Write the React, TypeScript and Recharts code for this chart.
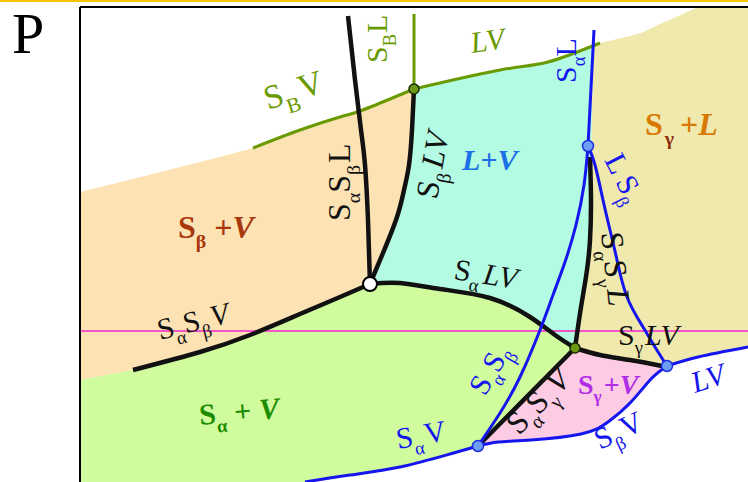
import { ComposedChart, XAxis, YAxis, Area, Line, Scatter, ReferenceLine, ReferenceDot } from 'recharts'

// diagram units: T runs 0–668 left to right, P runs 0–475 bottom to top
type Pt = [number, number]
type Band = [number, number, number] // T, lower P, upper P

// phase fields (x-slices: T, lower boundary, upper boundary)
const SB_V_FIELD: Band[] = [
  [0, 102, 290], [53, 112, 303], [120, 130, 320], [170, 147, 333], [173, 148, 334],
  [220, 168, 352], [260, 185, 365], [280, 194, 371], [290, 198, 375], [303, 229, 380],
  [317, 265, 386], [324, 292, 388], [329, 317, 390], [332, 352, 392], [334, 393, 393],
]
const SA_V_FIELD: Band[] = [
  [0, 0, 102], [53, 0, 112], [120, 0, 130], [170, 0, 147], [220, 0, 168], [225, 0, 170],
  [260, 5, 185], [270, 7, 189], [290, 10, 198], [320, 15, 199], [360, 25, 193],
  [370, 28, 191], [398, 36, 186], [410, 48, 184], [450, 88, 165], [475, 114, 147], [495, 134, 134],
]
const L_V_FIELD: Band[] = [
  [290, 198, 198], [303, 198, 229], [317, 199, 265], [324, 198, 292], [329, 198, 317],
  [332, 197, 352], [334, 197, 393], [360, 193, 399], [410, 184, 410], [450, 165, 417],
  [475, 147, 423], [495, 134, 430], [499, 162, 431], [503, 187, 433], [507, 212, 434],
  [510, 242, 435], [511, 290, 436], [512, 370, 436], [513, 420, 437], [513.5, 437, 437],
]
const SG_L_FIELD: Band[] = [
  [495, 134, 134], [499, 133, 162], [503, 132, 187], [507, 131, 212], [510, 130, 242],
  [511, 129, 290], [512, 129, 370], [513, 129, 420], [513.5, 129, 437], [520, 127, 439],
  [550, 122, 446], [561, 120, 449], [582, 116, 459], [587, 116, 461], [618, 125, 475], [668, 135, 475],
]
const SG_V_FIELD: Band[] = [
  [398, 36, 36], [418, 40, 56], [451, 42, 90], [495, 47, 134], [501, 48, 132], [520, 56, 127],
  [528, 60, 126], [550, 79, 122], [571, 103, 118], [582, 112, 116], [587, 116, 116],
]

// black univariant curves
const SA_SB_L: Pt[] = [[268, 466], [275, 402], [281, 352], [285, 317], [288, 262], [290, 198]]
const SB_LV: Pt[] = [[334, 393], [332, 352], [329, 317], [324, 292], [317, 265], [303, 229], [290, 198]]
const SA_SB_V: Pt[] = [[53, 112], [120, 130], [170, 147], [220, 168], [260, 185], [290, 198]]
const SA_LV: Pt[] = [[290, 198], [320, 199], [360, 193], [410, 184], [450, 165], [475, 147], [495, 134]]
const SA_SG_L: Pt[] = [[495, 134], [499, 162], [503, 187], [507, 212], [510, 242], [511, 282], [510, 325]]
const SA_SG_V: Pt[] = [[398, 36], [495, 134]]
const SG_LV: Pt[] = [[495, 134], [520, 127], [550, 122], [582, 116]]

// olive curves
const SB_V: Pt[] = [[173, 334], [220, 352], [260, 365], [280, 371], [310, 383], [334, 393]]
const LV_UPPER: Pt[] = [[334, 393], [420, 412], [468, 420], [520, 439]]
const SB_L: Pt[] = [[334, 468], [334, 393]]

// blue curves
const SA_L: Pt[] = [[514, 452], [508, 336]]
const SA_SB: Pt[] = [[508, 336], [504, 297], [496, 257], [485, 220], [473, 187], [460, 152], [440, 105], [420, 69], [398, 36]]
const L_SB: Pt[] = [[508, 336], [515, 317], [523, 282], [530, 252], [537, 222], [547, 185], [563, 155], [575, 135], [587, 116]]
const LV_LOWER: Pt[] = [[587, 116], [618, 125], [668, 135]]
const SB_V_LOW: Pt[] = [[587, 116], [571, 103], [551, 80], [528, 60], [501, 48], [451, 42], [418, 40], [398, 36]]
const SA_V: Pt[] = [[225, 0], [270, 7], [320, 15], [370, 28], [398, 36]]

const ISOBAR_P = 151

const WHITE_POINTS: Pt[] = [[290, 198]]
const OLIVE_POINTS: Pt[] = [[334, 393], [495, 134]]
const BLUE_POINTS: Pt[] = [[508, 336], [587, 116], [398, 36]]

const INK = '#111'
const OLIVE = '#6a9a02'
const BLUE = '#1515ee'

type Part = [string, string?, number?, string?] // text, flags (s=sub, b=bold, i=italic), dx, colour
type Label = { t: number; p: number; rot: number; size: number; color: string; parts: Part[] }

const LABELS: Label[] = [
  { t: 188, p: 372, rot: -18, size: 34, color: OLIVE, parts: [['S'], ['B', 's'], ['V', '', 3]] },
  { t: 307, p: 419, rot: -90, size: 30, color: OLIVE, parts: [['S'], ['B', 's'], ['L', '', 1]] },
  { t: 392, p: 429, rot: -8, size: 30, color: OLIVE, parts: [['LV', 'i']] },
  { t: 496, p: 399, rot: -90, size: 30, color: BLUE, parts: [['S'], ['α', 's'], ['L']] },
  { t: 565, p: 347, rot: 0, size: 32, color: '#d97800', parts: [['S', 'b'], ['γ', 'sb', 2, '#8c2c06'], ['+', 'b', 6], ['L', 'bi']] },
  { t: 382, p: 312, rot: 0, size: 30, color: '#1c6fe6', parts: [['L+V', 'bi']] },
  { t: 270, p: 261, rot: -90, size: 32, color: INK, parts: [['S'], ['α', 's'], ['S'], ['β', 's'], ['L', '', 2]] },
  { t: 357, p: 282, rot: -80, size: 32, color: INK, parts: [['S'], ['β', 's'], ['LV', 'i', 3]] },
  { t: 98, p: 244, rot: 0, size: 32, color: '#a8380c', parts: [['S', 'b'], ['β', 'sb'], ['+', 'b', 8], ['V', 'bi']] },
  { t: 80, p: 142, rot: -14, size: 30, color: INK, parts: [['S'], ['α', 's'], ['S'], ['β', 's'], ['V', 'i', 2]] },
  { t: 373, p: 203, rot: 9, size: 30, color: INK, parts: [['S'], ['α', 's'], ['LV', 'i', 3]] },
  { t: 521, p: 249, rot: 84, size: 32, color: INK, parts: [['S'], ['α', 's'], ['S'], ['γ', 's'], ['L', 'i', 2]] },
  { t: 524, p: 322, rot: 63, size: 30, color: BLUE, parts: [['L'], ['S', '', 6], ['β', 's']] },
  { t: 538, p: 137, rot: 0, size: 30, color: INK, parts: [['S'], ['γ', 's'], ['LV', 'i', 2]] },
  { t: 405, p: 85, rot: -60, size: 30, color: BLUE, parts: [['S'], ['α', 's'], ['S'], ['β', 's']] },
  { t: 439, p: 46, rot: -46, size: 32, color: INK, parts: [['S'], ['α', 's'], ['S'], ['γ', 's'], ['V', 'i', 2]] },
  { t: 498, p: 88, rot: 0, size: 28, color: '#b02ee6', parts: [['S', 'b'], ['γ', 'sb'], ['+', 'b', 2], ['V', 'bi']] },
  { t: 520, p: 32, rot: -25, size: 30, color: BLUE, parts: [['S'], ['β', 's'], ['V', '', 2]] },
  { t: 615, p: 89, rot: -18, size: 30, color: BLUE, parts: [['LV', 'i']] },
  { t: 318, p: 33, rot: -10, size: 30, color: BLUE, parts: [['S'], ['α', 's'], ['V', '', 2]] },
  { t: 120, p: 57, rot: -5, size: 30, color: '#1e8c00', parts: [['S', 'b'], ['α', 'sb'], ['+', 'b', 8], ['V', 'bi', 8]] },
]

const pts = (a: Pt[]) => a.map(([t, p]) => ({ t, p }))
const band = (a: Band[]) => a.map(([t, lo, hi]) => ({ t, band: [lo, hi] }))

function LabelShape(props: any) {
  const { cx, cy, payload } = props
  const lab = payload as Label
  let down = false
  const shift = lab.size * 0.3
  return (
    <text
      transform={`translate(${cx},${cy}) rotate(${lab.rot})`}
      fontFamily="'Liberation Serif', 'Times New Roman', serif"
      fontSize={lab.size}
      fill={lab.color}
    >
      {lab.parts.map(([txt, f = '', dx = 0, col], i) => {
        const sub = f.includes('s')
        const dy = sub && !down ? shift : !sub && down ? -shift : 0
        down = sub
        return (
          <tspan
            key={i}
            dx={dx || undefined}
            dy={dy || undefined}
            fontSize={sub ? lab.size * 0.62 : lab.size}
            fontStyle={f.includes('i') ? 'italic' : 'normal'}
            fontWeight={f.includes('b') ? 'bold' : 'normal'}
            fill={col ?? lab.color}
          >
            {txt}
          </tspan>
        )
      })}
    </text>
  )
}

const field = (data: Band[], fill: string) => (
  <Area
    data={band(data)}
    dataKey="band"
    type="linear"
    stroke="none"
    fill={fill}
    fillOpacity={1}
    dot={false}
    activeDot={false}
    isAnimationActive={false}
  />
)

const curve = (data: Pt[], stroke: string, width: number) => (
  <Line
    data={pts(data)}
    dataKey="p"
    type="natural"
    stroke={stroke}
    strokeWidth={width}
    dot={false}
    activeDot={false}
    isAnimationActive={false}
  />
)

export default function App() {
  return (
    <div style={{ position: 'absolute', left: 0, top: 0, width: 748, height: 482, background: '#fff' }}>
      <svg width={748} height={482} style={{ position: 'absolute', left: 0, top: 0 }}>
        <rect x={0} y={0} width={748} height={2} fill="#f6c700" />
        <text x={12} y={53} fontFamily="'Liberation Serif', serif" fontSize={58} fill="#000">P</text>
      </svg>
      <div style={{ position: 'absolute', left: 0, top: 0 }}>
        <ComposedChart width={748} height={482} margin={{ top: 7, right: 0, bottom: 0, left: 80 }}>
          <XAxis type="number" dataKey="t" domain={[0, 668]} allowDataOverflow hide />
          <YAxis type="number" dataKey="p" domain={[0, 475]} allowDataOverflow hide />

          {field(SB_V_FIELD, '#fde2b3')}
          {field(SA_V_FIELD, '#d0fc9e')}
          {field(L_V_FIELD, '#b3fbe2')}
          {field(SG_L_FIELD, '#efe9ad')}
          {field(SG_V_FIELD, '#fdcbe4')}

          <ReferenceLine y={ISOBAR_P} stroke="#f455c8" strokeWidth={2} />

          {curve(SB_V, OLIVE, 3)}
          {curve(LV_UPPER, OLIVE, 3)}
          {curve(SB_L, OLIVE, 3)}

          {curve(SA_SB_L, INK, 4.5)}
          {curve(SB_LV, INK, 4.5)}
          {curve(SA_SB_V, INK, 4.5)}
          {curve(SA_LV, INK, 4.5)}
          {curve(SA_SG_L, INK, 4.5)}
          {curve(SA_SG_V, INK, 4.5)}
          {curve(SG_LV, INK, 4.5)}

          {curve(SA_L, BLUE, 3)}
          {curve(SA_SB, BLUE, 3)}
          {curve(L_SB, BLUE, 3)}
          {curve(LV_LOWER, BLUE, 3)}
          {curve(SB_V_LOW, BLUE, 3)}
          {curve(SA_V, BLUE, 3)}

          <ReferenceLine x={0} stroke="#000" strokeWidth={2} />
          <ReferenceLine y={475} stroke="#000" strokeWidth={2} />

          {WHITE_POINTS.map(([t, p]) => (
            <ReferenceDot key={`w${t}`} x={t} y={p} r={7} fill="#fff" stroke="#000" strokeWidth={2} />
          ))}
          {OLIVE_POINTS.map(([t, p]) => (
            <ReferenceDot key={`o${t}`} x={t} y={p} r={5} fill="#6b9a12" stroke="#1c2a00" strokeWidth={1.5} />
          ))}
          {BLUE_POINTS.map(([t, p]) => (
            <ReferenceDot key={`b${t}`} x={t} y={p} r={5.5} fill="#6e9ff5" stroke="#1c2ee0" strokeWidth={1.5} />
          ))}

          <Scatter data={LABELS} dataKey="p" shape={LabelShape} isAnimationActive={false} />
        </ComposedChart>
      </div>
    </div>
  )
}
